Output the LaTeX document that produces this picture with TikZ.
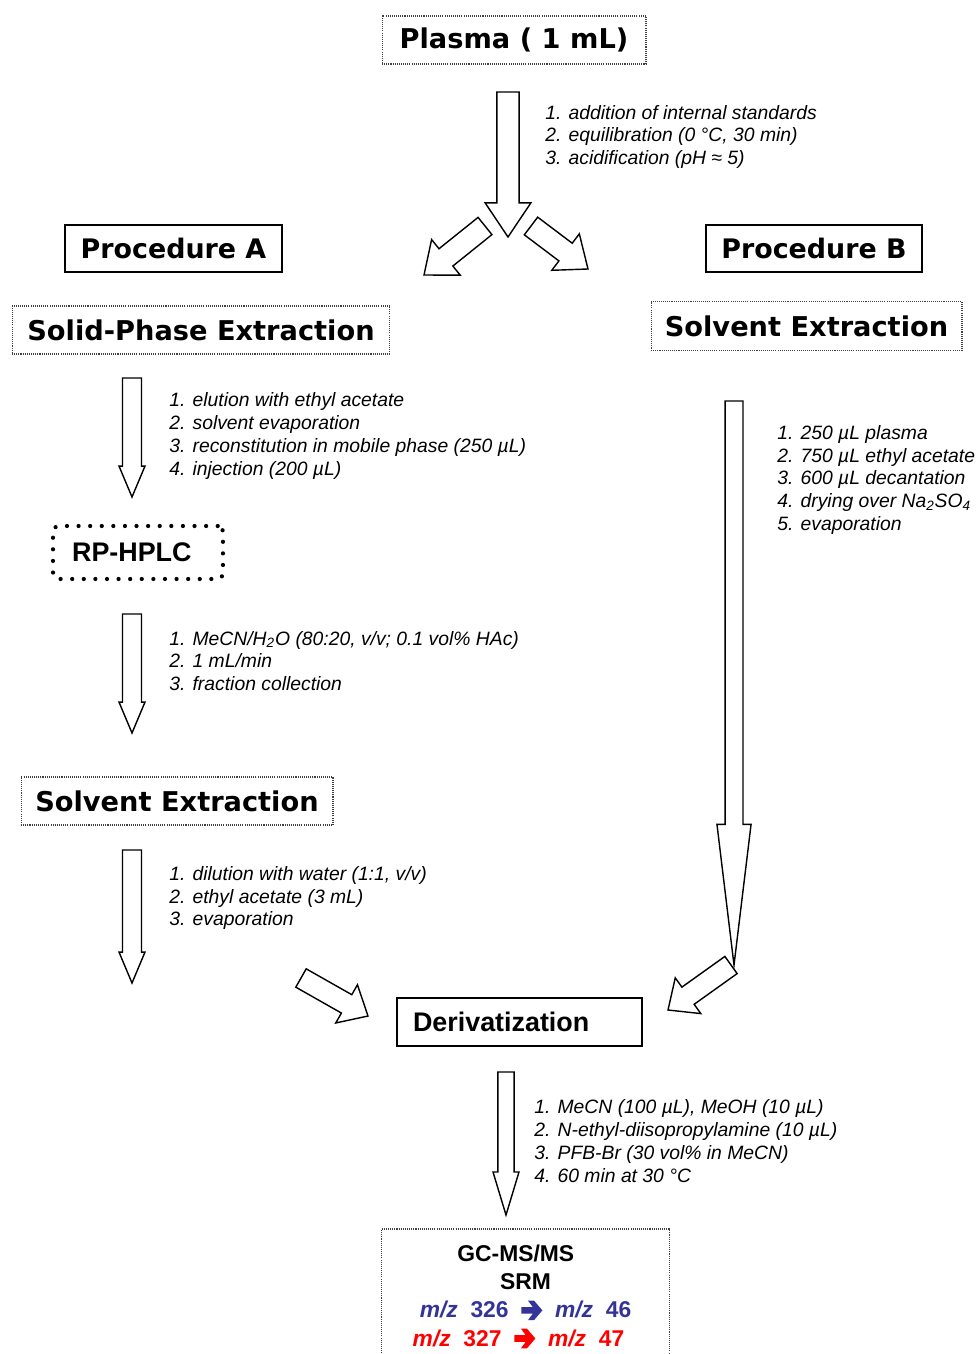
\documentclass[tikz,border=0pt]{standalone}
\usepackage{fontspec}
\setmainfont{Liberation Sans}
\newfontfamily\boxfont{DejaVu Sans}
\usepackage{tikz}
\usetikzlibrary{calc}

\definecolor{mzblue}{RGB}{51,51,153}
\definecolor{mzred}{RGB}{255,0,0}

\tikzset{
  thindots/.style={draw=black!75, line width=0.6pt, dash pattern=on 0.6pt off 0.6pt},
  dotbox/.style={thindots, inner sep=0pt, font=\boxfont\bfseries\fontsize{15.5}{18}\selectfont},
  procbox/.style={draw, line width=0.8pt, inner sep=0pt, font=\boxfont\bfseries\fontsize{15.3}{18}\selectfont},
  steps/.style={anchor=west, align=left, inner sep=0pt, font=\fontsize{11}{13}\selectfont\itshape},
  hollow/.style={draw, fill=white, line width=0.8pt, line join=miter},
}

% hollow block arrow: from, to, half shaft, half head, head length
\newcommand{\fatarrow}[5]{%
  \coordinate (neck) at ($(#2)!#5!(#1)$);
  \draw[hollow] ($(#1)!#3!90:(#2)$) -- ($(neck)!#3!90:(#2)$) -- ($(neck)!#4!90:(#2)$)
    -- (#2) -- ($(neck)!#4!-90:(#2)$) -- ($(neck)!#3!-90:(#2)$) -- ($(#1)!#3!-90:(#2)$) -- cycle;
}
% heavy arrow between the m/z values
\newcommand{\srmarrow}{\tikz[x=1pt, y=1pt, baseline=-4.3pt]
  \fill (0,-1.9) -- (6.5,-1.9) -- (3.8,-5.6) -- (7.2,-5.6) -- (12,0) -- (7.2,5.6) -- (3.8,5.6)
    -- (6.5,1.9) -- (0,1.9) -- cycle;}

\begin{document}
\begin{tikzpicture}[x=0.02cm, y=-0.02cm]
  \useasboundingbox (0,0) rectangle (976,1354);

  % boxes
  \node[dotbox, minimum width=5.28cm, minimum height=0.96cm] (plasma) at (514,40) {Plasma ( 1 mL)};
  \node[procbox, minimum width=4.34cm, minimum height=0.94cm] (procA) at (173.5,248.5) {Procedure A};
  \node[procbox, minimum width=4.32cm, minimum height=0.94cm] (procB) at (814,248.5) {Procedure B};
  \node[dotbox, minimum width=7.56cm, minimum height=0.96cm] (spe) at (201,330) {Solid-Phase Extraction};
  \node[dotbox, minimum width=6.22cm, minimum height=0.98cm] (solvB) at (806.5,326) {Solvent Extraction};
  \node[draw, line width=2.4pt, line cap=round, dash pattern=on 0pt off 6.6pt, rounded corners=3pt,
        minimum width=3.4cm, minimum height=1.06cm, inner sep=0pt,
        font=\bfseries\fontsize{15.3}{18}\selectfont] (hplc) at (138,552.5) {RP-HPLC\hspace*{7pt}};
  \node[dotbox, minimum width=6.24cm, minimum height=0.96cm] (solvA) at (177,801) {Solvent Extraction};
  \node[procbox, font=\bfseries\fontsize{15.3}{18}\selectfont, minimum height=0.96cm,
        text width=4.26cm, inner xsep=0.32cm, align=left] (deriv) at (519.5,1022) {Derivatization};
  \node[minimum width=5.74cm, inner ysep=9pt, anchor=north, align=center,
        font=\bfseries\fontsize{13}{16}\selectfont] (gcms) at (525.5,1229)
    {GC-MS/MS\hspace*{11pt}\\
     SRM\hspace*{4pt}\\
     \textcolor{mzblue}{\textit{m/z}~~326~~\srmarrow~~\textit{m/z}~~46}\\
     \hspace*{-8pt}\textcolor{mzred}{\textit{m/z}~~327~~\srmarrow~~\textit{m/z}~~47}};
  \draw[thindots] ([yshift=-1cm]gcms.south west) |- (gcms.north east) -- ([yshift=-1cm]gcms.south east);

  % step lists
  \node[steps] (plasmaSteps) at (545,137) {1. addition of internal standards\\
    2. equilibration (0 °C, 30 min)\\3. acidification (pH ≈ 5)};
  \node[steps] (speSteps) at (169,436) {1. elution with ethyl acetate\\2. solvent evaporation\\
    3. reconstitution in mobile phase (250 µL)\\4. injection (200 µL)};
  \node[steps] (hplcSteps) at (169,661) {1. MeCN/H\textsubscript{2}O (80:20, v/v; 0.1 vol\% HAc)\\
    2. 1 mL/min\\3. fraction collection};
  \node[steps] (solvASteps) at (169,898) {1. dilution with water (1:1, v/v)\\
    2. ethyl acetate (3 mL)\\3. evaporation};
  \node[steps] (solvBSteps) at (777,480) {1. 250 µL plasma\\2. 750 µL ethyl acetate\\
    3. 600 µL decantation\\4. drying over Na\textsubscript{2}SO\textsubscript{4}\\5. evaporation};
  \node[steps] (derivSteps) at (534,1141) {1. MeCN (100 µL), MeOH (10 µL)\\
    2. N-ethyl-diisopropylamine (10 µL)\\3. PFB-Br (30 vol\% in MeCN)\\4. 60 min at 30 °C};

  % arrow ends
  \coordinate (a1s) at (508,92);   \coordinate (a1e) at (508,237);
  \coordinate (aLs) at (485,226);  \coordinate (aLe) at (424,275);
  \coordinate (aRs) at (531,226);  \coordinate (aRe) at (588,269);
  \coordinate (a2s) at (132,378);  \coordinate (a2e) at (132,497);
  \coordinate (a3s) at (132,614);  \coordinate (a3e) at (132,733);
  \coordinate (a4s) at (132,850);  \coordinate (a4e) at (132,983);
  \coordinate (a5s) at (301,978);  \coordinate (a5e) at (368,1016);
  \coordinate (bs) at (734,401);   \coordinate (be) at (734,965);
  \coordinate (a6s) at (731,965);  \coordinate (a6e) at (668,1010);
  \coordinate (a7s) at (506,1072); \coordinate (a7e) at (506,1215);

  \fatarrow{a1s}{a1e}{6.3pt}{13pt}{19.4pt}
  \fatarrow{aLs}{aLe}{6.3pt}{13pt}{16pt}
  \fatarrow{aRs}{aRe}{6.3pt}{13pt}{16pt}
  \fatarrow{a2s}{a2e}{5.4pt}{7.4pt}{17.6pt}
  \fatarrow{a3s}{a3e}{5.4pt}{7.4pt}{17.6pt}
  \fatarrow{a4s}{a4e}{5.4pt}{7.4pt}{17.6pt}
  \fatarrow{bs}{be}{5.1pt}{9.7pt}{80pt}
  \fatarrow{a5s}{a5e}{6pt}{12.5pt}{14pt}
  \fatarrow{a6s}{a6e}{6pt}{12.5pt}{14pt}
  \fatarrow{a7s}{a7e}{4.6pt}{7.4pt}{24.5pt}
\end{tikzpicture}
\end{document}
